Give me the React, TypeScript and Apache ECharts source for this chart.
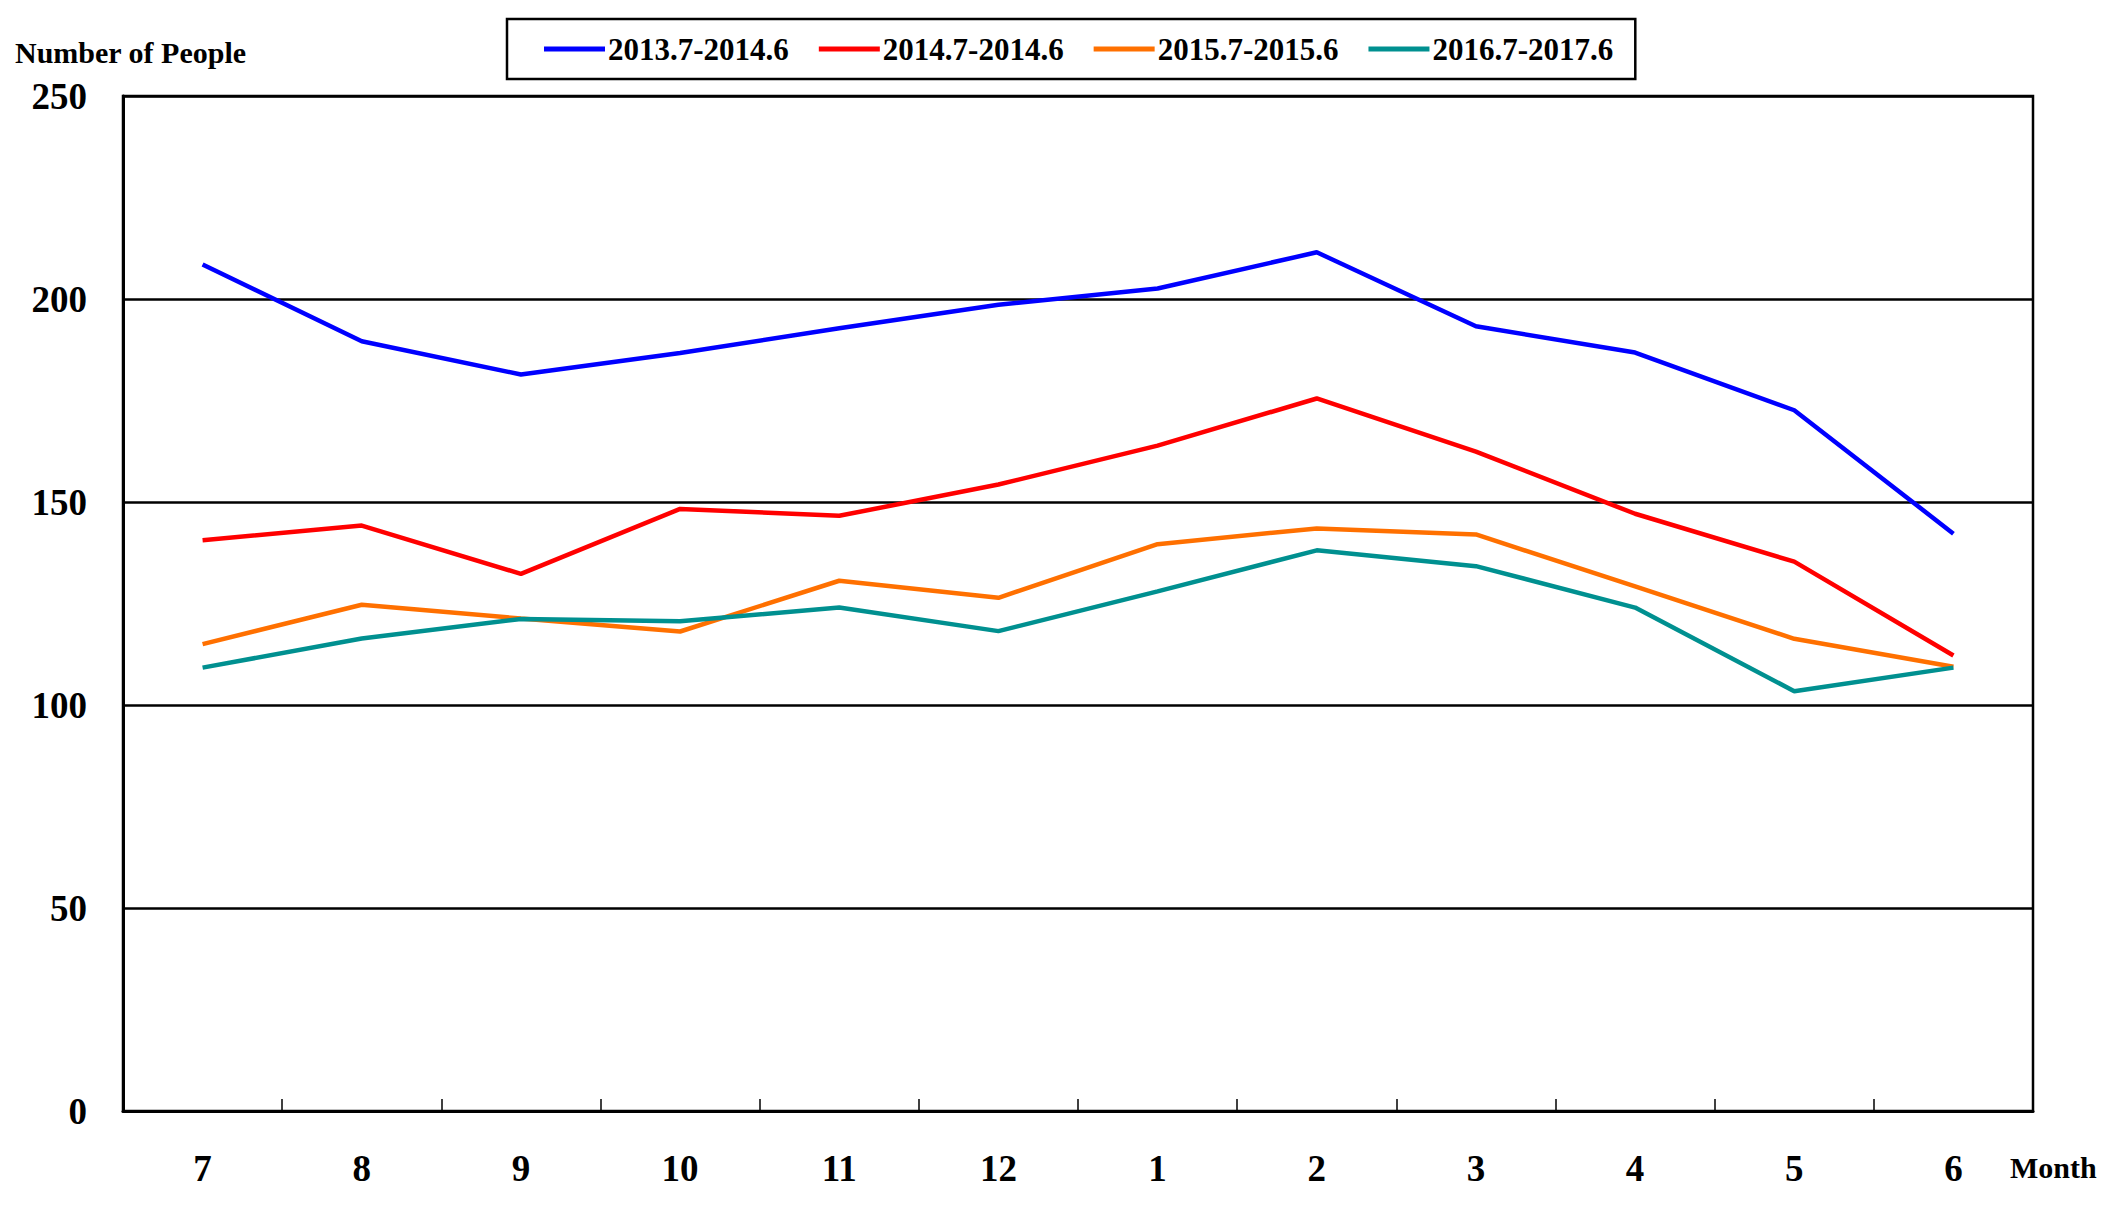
import React, { useEffect, useRef } from "react";
import * as echarts from "echarts";

const months = ["7", "8", "9", "10", "11", "12", "1", "2", "3", "4", "5", "6"];
const yTicks = { min: 0, max: 250, interval: 50 };

const s2013 = [208.5, 189.6, 181.4, 186.7, 192.8, 198.6, 202.6, 211.5, 193.3, 186.8, 172.6, 142.2];
const s2014 = [140.6, 144.2, 132.3, 148.3, 146.6, 154.3, 163.9, 175.5, 162.4, 147.1, 135.3, 112.2];
const s2015 = [115.0, 124.7, 121.3, 118.1, 130.6, 126.4, 139.6, 143.5, 142.0, 129.2, 116.3, 109.4];
const s2016 = [109.2, 116.4, 121.2, 120.6, 124.0, 118.2, 128.0, 138.1, 134.2, 124.0, 103.4, 109.2];

const seriesNames = ["2013.7-2014.6", "2014.7-2014.6", "2015.7-2015.6", "2016.7-2017.6"];
const seriesData = [s2013, s2014, s2015, s2016];
const seriesColors = ["#0000FF", "#FF0000", "#FF7000", "#009090"];

const yAxisTitle = "Number of People";
const xAxisTitle = "Month";

const FONT = "'Liberation Serif', 'Times New Roman', serif";

export default function App() {
  const ref = useRef<HTMLDivElement>(null);

  useEffect(() => {
    if (!ref.current) return;
    const chart = echarts.init(ref.current, null, { renderer: "svg" });
    chart.setOption({
      animation: false,
      backgroundColor: "#ffffff",
      textStyle: { fontFamily: FONT },
      grid: {
        left: 123,
        right: 74,
        top: 96,
        bottom: 94,
        show: true,
        borderColor: "#000000",
        borderWidth: 2.5,
        backgroundColor: "transparent",
      },
      legend: {
        left: 507,
        top: 19,
        orient: "horizontal",
        icon: "rect",
        itemWidth: 61,
        itemHeight: 5,
        itemGap: 30,
        padding: [14, 22, 14, 37],
        borderColor: "#000000",
        borderWidth: 2.5,
        textStyle: {
          fontFamily: FONT,
          fontWeight: "bold",
          fontSize: 31,
          color: "#000000",
          lineHeight: 32,
          padding: [0, 0, 0, -2],
        },
        data: seriesNames,
      },
      xAxis: {
        type: "category",
        data: months,
        boundaryGap: true,
        axisLine: { show: true, lineStyle: { color: "#000000", width: 3 } },
        axisTick: {
          show: true,
          inside: true,
          length: 12,
          interval: 0,
          lineStyle: { color: "#000000", width: 1.5 },
        },
        axisLabel: {
          interval: 0,
          margin: 39,
          fontFamily: FONT,
          fontWeight: "bold",
          fontSize: 37,
          lineHeight: 37,
          color: "#000000",
        },
        splitLine: { show: false },
      },
      yAxis: {
        type: "value",
        min: yTicks.min,
        max: yTicks.max,
        interval: yTicks.interval,
        axisLine: { show: true, lineStyle: { color: "#000000", width: 3 } },
        axisTick: { show: false },
        axisLabel: {
          margin: 36,
          fontFamily: FONT,
          fontWeight: "bold",
          fontSize: 37,
          color: "#000000",
        },
        splitLine: { show: true, lineStyle: { color: "#000000", width: 2.5 } },
      },
      series: seriesNames.map((name, i) => ({
        name,
        type: "line",
        data: seriesData[i],
        symbol: "none",
        showSymbol: false,
        lineStyle: { color: seriesColors[i], width: 4.5 },
        itemStyle: { color: seriesColors[i] },
        z: 3,
      })),
      graphic: [
        {
          type: "text",
          left: 15,
          top: 37,
          style: {
            text: yAxisTitle,
            font: `bold 30px ${FONT}`,
            fill: "#000000",
          },
        },
        {
          type: "text",
          left: 2010,
          top: 1152,
          style: {
            text: xAxisTitle,
            font: `bold 30px ${FONT}`,
            fill: "#000000",
          },
        },
      ],
    });
    return () => chart.dispose();
  }, []);

  return (
    <div
      ref={ref}
      style={{ position: "fixed", left: 0, top: 0, width: 2107, height: 1205, background: "#fff" }}
    />
  );
}
